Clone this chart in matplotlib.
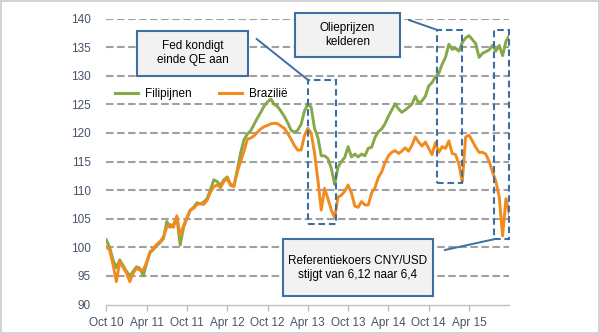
import matplotlib
matplotlib.use('Agg')
import matplotlib.pyplot as plt
from matplotlib.patches import Rectangle
from matplotlib.lines import Line2D

plt.rcParams['font.family'] = ['Liberation Sans', 'DejaVu Sans']

# ---- data (index, Oct 2010 = 100), half-monthly points, t in months since Oct 2010
t_months = [i * 0.5 for i in range(121)]

filipijnen = [
    101.3, 100.0, 97.8, 96.4, 97.8, 96.8, 95.8, 95.0, 95.8, 96.6,
    96.3, 95.0, 97.2, 99.0, 99.6, 100.3, 100.8, 101.5, 104.5, 103.5,
    104.0, 105.2, 100.4, 103.5, 105.0, 106.5, 107.0, 107.8, 107.6, 107.9,
    108.5, 110.0, 111.8, 111.5, 110.8, 111.8, 112.3, 111.0, 110.8, 113.5,
    116.5, 118.8, 119.8, 120.4, 121.5, 122.6, 123.6, 124.7, 125.4, 125.9,
    125.0, 124.6, 123.8, 122.9, 121.8, 120.5, 120.1, 120.5, 121.5, 123.8,
    125.0, 124.5, 120.8, 119.2, 116.0, 116.0, 115.5, 113.8, 111.0, 114.0,
    115.0, 115.7, 117.6, 115.8, 116.3, 115.8, 116.3, 116.0, 117.3, 117.5,
    119.2, 120.2, 120.7, 121.6, 122.9, 124.0, 125.1, 124.2, 123.6, 124.0,
    124.5, 125.0, 126.4, 125.2, 125.6, 126.4, 128.2, 128.8, 129.8, 130.4,
    132.0, 133.2, 135.5, 134.6, 134.8, 134.3, 135.8, 136.6, 137.0, 136.3,
    135.6, 133.2, 133.9, 134.2, 134.5, 135.3, 134.3, 135.3, 133.5, 136.0,
    137.0,
]

brazilie = [
    100.1, 99.5, 97.0, 94.0, 97.5, 96.5, 95.5, 94.0, 95.5, 96.3,
    96.0, 96.0, 97.4, 99.2, 99.8, 100.5, 101.0, 101.8, 103.5, 104.0,
    103.5, 105.5, 102.0, 103.8, 105.2, 106.5, 106.8, 107.5, 107.6, 107.5,
    108.2, 109.6, 110.6, 110.9, 110.4, 111.5, 112.0, 110.8, 110.6, 113.2,
    115.0, 116.8, 118.9, 119.1, 119.5, 120.1, 120.7, 121.1, 121.3, 121.6,
    121.7, 121.6, 121.2, 120.8, 119.9, 118.9, 117.8, 117.0, 117.0, 119.5,
    120.8, 120.0, 116.5, 111.8, 106.5, 110.3, 108.5, 106.5, 105.2, 108.8,
    109.1, 109.8, 110.9, 109.5, 107.2, 107.0, 108.0, 107.4, 107.4, 109.5,
    110.4, 112.2, 113.2, 114.8, 116.0, 116.6, 116.9, 116.4, 116.8, 117.4,
    116.8, 117.8, 119.3, 118.4, 117.7, 118.4, 117.3, 116.2, 118.3, 116.6,
    117.6, 117.3, 118.6, 116.4, 116.2, 114.5, 111.5, 119.3, 119.6, 118.6,
    117.5, 116.6, 116.6, 116.3, 115.0, 113.2, 111.5, 108.8, 102.0, 108.5,
    105.8,
]

tick_pos = [0, 6, 12, 18, 24, 30, 36, 42, 48, 54]
tick_labels = ['Oct 10', 'Apr 11', 'Oct 11', 'Apr 12', 'Oct 12',
               'Apr 13', 'Oct 13', 'Apr 14', 'Oct 14', 'Apr 15']
y_ticks = [90, 95, 100, 105, 110, 115, 120, 125, 130, 135, 140]

# highlighted periods: (start month, end month, low, high)
highlights = [
    (30.0, 34.2, 104.0, 129.25),
    (49.3, 53.0, 111.2, 138.0),
    (57.7, 60.0, 101.4, 138.0),
]

GREEN = '#86a848'
ORANGE = '#f28a1e'
BLUE = '#3e6fa3'
TICKC = '#44546a'

W, H = 600, 334
fig = plt.figure(figsize=(W / 100, H / 100), dpi=100)
fig.patch.set_facecolor('white')

x0, x1 = 106.3, 509.3
ytop, ybot = 18.5, 304.5
ax = fig.add_axes([x0 / W, 1 - ybot / H, (x1 - x0) / W, (ybot - ytop) / H])
ax.set_xlim(0, 60)
ax.set_ylim(90, 140)

ax.set_yticks(y_ticks)
ax.set_yticklabels([str(v) for v in y_ticks])
ax.set_xticks(tick_pos)
ax.set_xticklabels(tick_labels)
ax.tick_params(axis='y', length=0, pad=11, labelsize=8.5, labelcolor=TICKC)
ax.tick_params(axis='x', length=4, width=1, color='#bfbfbf', pad=5,
               labelsize=8.5, labelcolor=TICKC)
for s in ['top', 'right', 'left']:
    ax.spines[s].set_visible(False)
ax.spines['bottom'].set_color('#bfbfbf')
ax.spines['bottom'].set_linewidth(1)

ax.yaxis.grid(True, color='#a0a0a0', linestyle=(0, (3.6, 1.7)), linewidth=1.5)
ax.set_axisbelow(True)
ax.yaxis.get_gridlines()[0].set_visible(False)

ax.plot(t_months, filipijnen, color=GREEN, lw=2.1, label='Filipijnen',
        solid_joinstyle='round', zorder=3)
ax.plot(t_months, brazilie, color=ORANGE, lw=2.1, label='Brazilië',
        solid_joinstyle='round', zorder=3)

for (a, b, lo, hi) in highlights:
    ax.add_patch(Rectangle((a, lo), b - a, hi - lo, fill=False, edgecolor=BLUE,
                           lw=1.5, linestyle=(0, (3.2, 1.8)), clip_on=False,
                           zorder=4))

leg = ax.legend(loc='center left', bbox_to_anchor=(115 / W, 1 - 94.3 / H),
                bbox_transform=fig.transFigure, ncol=2, frameon=False,
                fontsize=8.5, handlelength=1.95, handletextpad=0.55,
                columnspacing=2.4, borderpad=0, borderaxespad=0)
for line in leg.get_lines():
    line.set_linewidth(2.2)

# overlay in pixel coordinates for annotation boxes
ov = fig.add_axes([0, 0, 1, 1], zorder=5)
ov.set_xlim(0, W)
ov.set_ylim(H, 0)
ov.axis('off')
ov.patch.set_alpha(0)

ov.add_patch(Rectangle((0.6, 0.6), W - 1.2, H - 1.2, fill=False,
                       edgecolor='#cfcfcf', lw=1.3))

boxes = [
    ((137.3, 30.7, 247.7, 76.0), 'Fed kondigt\neinde QE aan'),
    ((295.0, 12.7, 400.0, 56.7), 'Olieprijzen\nkelderen'),
    ((282.7, 239.3, 433.3, 296.0), 'Referentiekoers CNY/USD\nstijgt van 6,12 naar 6,4'),
]
for (bx0, by0, bx1, by1), txt in boxes:
    ov.add_patch(Rectangle((bx0, by0), bx1 - bx0, by1 - by0, facecolor='#f2f2f2',
                           edgecolor=BLUE, lw=1.5))
    ov.text((bx0 + bx1) / 2, (by0 + by1) / 2, txt, ha='center', va='center',
            fontsize=8.5, color='black', linespacing=1.25)

connectors = [
    ((256.7, 39.0), (308.0, 80.0)),
    ((409.0, 20.0), (437.3, 30.0)),
    ((445.0, 250.0), (493.7, 239.3)),
]
for (p, q) in connectors:
    ov.add_line(Line2D([p[0], q[0]], [p[1], q[1]], color=BLUE, lw=1.4))

fig.savefig('out.png', dpi=100)
